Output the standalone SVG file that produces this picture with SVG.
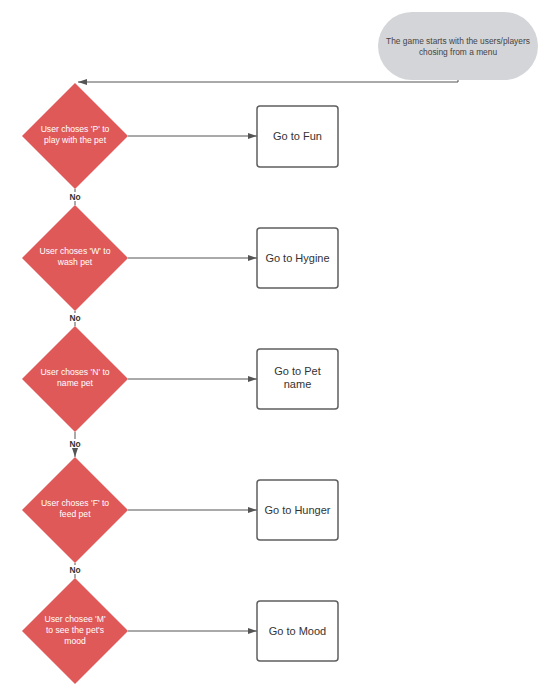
<svg xmlns="http://www.w3.org/2000/svg" width="560" height="700" viewBox="0 0 560 700">
<style>
.dia{fill:#df5959;stroke:none}
.dt{font-family:"Liberation Sans",Arial,sans-serif;font-size:8.6px;fill:#ffffff;text-anchor:middle}
.box{fill:#ffffff;stroke:#5f5f5f;stroke-width:1.5}
.bt{font-family:"Liberation Sans",Arial,sans-serif;font-size:11px;fill:#333333;text-anchor:middle}
.ln{fill:none;stroke:#555555;stroke-width:1}
.no{font-family:"Liberation Sans",Arial,sans-serif;font-size:8.4px;font-weight:bold;fill:#333333;text-anchor:middle}
.st{fill:#d4d5d8}
.stt{font-family:"Liberation Sans",Arial,sans-serif;font-size:8.4px;fill:#444444;text-anchor:middle}
</style>
<defs>
<marker id="ah" markerWidth="9" markerHeight="6" refX="9" refY="3" orient="auto" markerUnits="userSpaceOnUse">
<path d="M0,0 L9,3 L0,6 Z" fill="#555555"/>
</marker>
</defs>
<rect width="560" height="700" fill="#ffffff"/>
<g id="connectors">
<polyline class="ln" points="458,80 458,82 78,82" marker-end="url(#ah)"/>
<line class="ln" x1="128" y1="136" x2="257" y2="136" marker-end="url(#ah)"/>
<line class="ln" x1="128" y1="258" x2="257" y2="258" marker-end="url(#ah)"/>
<line class="ln" x1="128" y1="379" x2="257" y2="379" marker-end="url(#ah)"/>
<line class="ln" x1="128" y1="510" x2="257" y2="510" marker-end="url(#ah)"/>
<line class="ln" x1="128" y1="631" x2="257" y2="631" marker-end="url(#ah)"/>
<line class="ln" x1="75" y1="189" x2="75" y2="205"/>
<line class="ln" x1="75" y1="311" x2="75" y2="326"/>
<line class="ln" x1="75" y1="432" x2="75" y2="457" marker-end="url(#ah)"/>
<line class="ln" x1="75" y1="563" x2="75" y2="578"/>
<rect x="66" y="192" width="18" height="9" fill="#ffffff"/>
<text class="no" x="75" y="200">No</text>
<rect x="66" y="313" width="18" height="9" fill="#ffffff"/>
<text class="no" x="75" y="321">No</text>
<rect x="66" y="439" width="18" height="9" fill="#ffffff"/>
<text class="no" x="75" y="447">No</text>
<rect x="66" y="565" width="18" height="9" fill="#ffffff"/>
<text class="no" x="75" y="573">No</text>
</g>
<g id="start">
<rect class="st" x="378" y="12" width="160" height="68" rx="34" ry="34"/>
<text class="stt" x="458" y="44">The game starts with the users/players</text>
<text class="stt" x="458" y="55">chosing from a menu</text>
</g>
<g id="d1">
<polygon class="dia" points="75,83 128,136 75,189 22,136"/>
<text class="dt" x="75" y="132">User choses 'P' to</text>
<text class="dt" x="75" y="143">play with the pet</text>
</g>
<g id="b1">
<rect class="box" x="257" y="106" width="81" height="61" rx="3"/>
<text class="bt" x="297.5" y="140">Go to Fun</text>
</g>
<g id="d2">
<polygon class="dia" points="75,205 128,258 75,311 22,258"/>
<text class="dt" x="75" y="254">User choses 'W' to</text>
<text class="dt" x="75" y="265">wash pet</text>
</g>
<g id="b2">
<rect class="box" x="257" y="228" width="81" height="60" rx="3"/>
<text class="bt" x="297.5" y="262">Go to Hygine</text>
</g>
<g id="d3">
<polygon class="dia" points="75,326 128,379 75,432 22,379"/>
<text class="dt" x="75" y="375">User choses 'N' to</text>
<text class="dt" x="75" y="386">name pet</text>
</g>
<g id="b3">
<rect class="box" x="257" y="349" width="81" height="60" rx="3"/>
<text class="bt" x="297.5" y="375">Go to Pet</text>
<text class="bt" x="297.5" y="388">name</text>
</g>
<g id="d4">
<polygon class="dia" points="75,457 128,510 75,563 22,510"/>
<text class="dt" x="75" y="506">User choses 'F' to</text>
<text class="dt" x="75" y="517">feed pet</text>
</g>
<g id="b4">
<rect class="box" x="257" y="480" width="81" height="60" rx="3"/>
<text class="bt" x="297.5" y="514">Go to Hunger</text>
</g>
<g id="d5">
<polygon class="dia" points="75,578 128,631 75,684 22,631"/>
<text class="dt" x="75" y="622">User chosee  'M'</text>
<text class="dt" x="75" y="633">to see the pet's</text>
<text class="dt" x="75" y="644">mood</text>
</g>
<g id="b5">
<rect class="box" x="257" y="601" width="81" height="60" rx="3"/>
<text class="bt" x="297.5" y="635">Go to Mood</text>
</g>
</svg>
